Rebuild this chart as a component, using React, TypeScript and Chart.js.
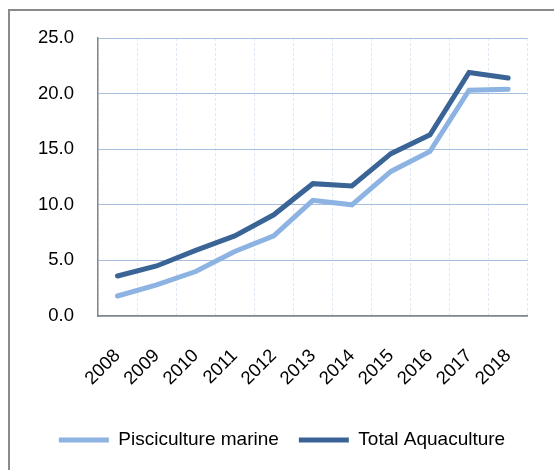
import React, { useEffect, useRef } from "react";
import { Chart, registerables } from "chart.js";

Chart.register(...registerables);

const years = ["2008", "2009", "2010", "2011", "2012", "2013", "2014", "2015", "2016", "2017", "2018"];
const piscicultureMarine = [1.8, 2.8, 4.0, 5.8, 7.2, 10.4, 10.0, 13.0, 14.8, 20.3, 20.4];
const totalAquaculture = [3.6, 4.5, 5.9, 7.2, 9.1, 11.9, 11.7, 14.6, 16.3, 21.9, 21.4];
const yTicks = [0, 5, 10, 15, 20, 25];

const FONT = "'Liberation Sans', Arial, sans-serif";

export default function App() {
  const ref = useRef<HTMLCanvasElement | null>(null);

  useEffect(() => {
    if (!ref.current) return;
    const chart = new Chart(ref.current, {
      type: "line",
      data: {
        labels: years,
        datasets: [
          {
            label: "Pisciculture marine",
            data: piscicultureMarine,
            borderColor: "#8DB3E2",
            backgroundColor: "#8DB3E2",
            borderWidth: 5,
            pointRadius: 0,
            tension: 0,
            borderCapStyle: "round",
            borderJoinStyle: "miter",
          },
          {
            label: "Total Aquaculture",
            data: totalAquaculture,
            borderColor: "#3A6496",
            backgroundColor: "#3A6496",
            borderWidth: 5,
            pointRadius: 0,
            tension: 0,
            borderCapStyle: "round",
            borderJoinStyle: "miter",
          },
        ],
      },
      options: {
        responsive: false,
        animation: false,
        devicePixelRatio: 1,
        layout: { padding: { top: 38, left: 36, right: 26, bottom: 10.5 } },
        plugins: {
          tooltip: { enabled: false },
          legend: {
            position: "bottom",
            labels: {
              usePointStyle: true,
              pointStyle: "line",
              pointStyleWidth: 50,
              padding: 20,
              color: "#000",
              font: { family: FONT, size: 19 },
            },
          },
        },
        scales: {
          x: {
            offset: true,
            grid: {
              offset: true,
              color: "#E0E8F3",
              lineWidth: 1,
              drawTicks: false,
            },
            border: { display: true, color: "#868686", width: 1.5, dash: [3, 2] },
            ticks: {
              color: "#000",
              font: { family: FONT, size: 18.5 },
              minRotation: 45,
              maxRotation: 45,
              padding: 29,
              autoSkip: false,
            },
            afterFit: (s: any) => {
              s.height = 94.5;
            },
          },
          y: {
            min: 0,
            max: 25,
            grid: { color: "#A7BFDE", lineWidth: 1, drawTicks: false },
            border: { display: true, color: "#868686", width: 1.5 },
            afterBuildTicks: (s: any) => {
              s.ticks = yTicks.map((v) => ({ value: v }));
            },
            ticks: {
              color: "#000",
              padding: 24,
              font: { family: FONT, size: 18.5 },
              callback: (v: any) => Number(v).toFixed(1),
            },
            afterFit: (s: any) => {
              s.width = 62;
            },
          },
        },
      },
    });
    return () => chart.destroy();
  }, []);

  return (
    <div style={{ position: "fixed", left: 0, top: 0, width: 554, height: 470, overflow: "hidden", background: "#fff" }}>
      <div
        style={{
          position: "absolute",
          left: 8,
          top: 9,
          width: 600,
          height: 600,
          border: "2px solid #8A8A8A",
          boxSizing: "border-box",
        }}
      />
      <canvas
        ref={ref}
        width={554}
        height={470}
        style={{ position: "absolute", left: 0, top: 0, width: 554, height: 470 }}
      />
    </div>
  );
}
